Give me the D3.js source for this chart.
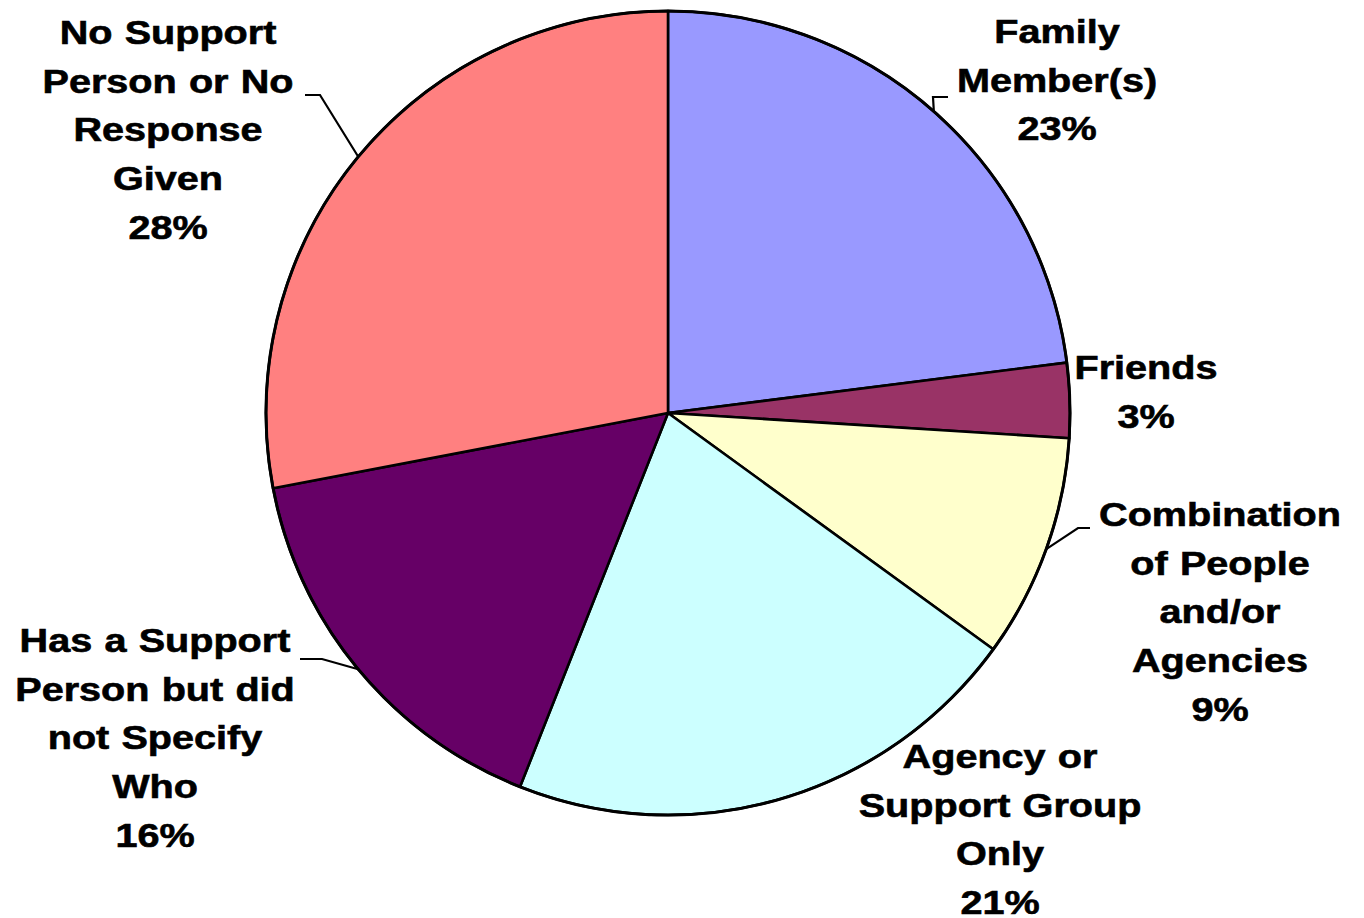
<!DOCTYPE html>
<html>
<head>
<meta charset="utf-8">
<script src="https://cdn.jsdelivr.net/npm/d3@7"></script>
<style>
  html, body { margin: 0; padding: 0; background: #fff; }
  svg { display: block; }
  text { font-family: "Liberation Sans", Arial, sans-serif; font-weight: bold; fill: #000; }
</style>
</head>
<body>
<svg id="chart" width="1364" height="918"></svg>
<script>
// Who respondents named as their support
const categories = [
  "Family Member(s)",
  "Friends",
  "Combination of People and/or Agencies",
  "Agency or Support Group Only",
  "Has a Support Person but did not Specify Who",
  "No Support Person or No Response Given"
];
const percents = [23, 3, 9, 21, 16, 28];
const sliceColors = ["#9999FF", "#993366", "#FFFFCC", "#CCFFFF", "#660066", "#FF8080"];

// Label text broken into lines (category name lines, then the percent line)
const labelLines = [
  ["Family", "Member(s)"],
  ["Friends"],
  ["Combination", "of People", "and/or", "Agencies"],
  ["Agency or", "Support Group", "Only"],
  ["Has a Support", "Person but did", "not Specify", "Who"],
  ["No Support", "Person or No", "Response", "Given"]
];

// Label placement: block centre x, centre y of first line
const labelAnchor = [
  [1057, 31],
  [1146, 367],
  [1220, 514],
  [1000, 756],
  [155, 640],
  [168, 32]
];
// Leader lines: elbow point and the end next to the text (null = no leader)
const leaderElbow = [
  [[933, 97], [948, 97]],
  null,
  [[1078, 528], [1090, 528]],
  null,
  [[322, 659], [300, 659]],
  [[320, 95], [305, 95]]
];

const width = 1364, height = 918;
const cx = 668, cy = 413, radius = 402;
const lineStep = 48.8;
const fontSize = 33, stretchX = 1.2;

const svg = d3.select("#chart");
const g = svg.append("g").attr("transform", `translate(${cx},${cy})`);

const data = categories.map((c, i) => ({ name: c, value: percents[i], i }));

const pie = d3.pie().sort(null).value(d => d.value).startAngle(0).endAngle(2 * Math.PI);
const arcs = pie(data);
const arc = d3.arc().innerRadius(0).outerRadius(radius);

g.selectAll("path.slice")
  .data(arcs)
  .enter().append("path")
  .attr("class", "slice")
  .attr("d", arc)
  .attr("fill", d => sliceColors[d.data.i])
  .attr("stroke", "#000")
  .attr("stroke-width", 2.6)
  .attr("stroke-linejoin", "round");

// outer rim
g.append("circle").attr("r", radius).attr("fill", "none").attr("stroke", "#000").attr("stroke-width", 3);

// leader lines from slice mid-angle on the rim
arcs.forEach(a => {
  const pts = leaderElbow[a.data.i];
  if (!pts) return;
  const mid = (a.startAngle + a.endAngle) / 2;
  const px = cx + radius * Math.sin(mid);
  const py = cy - radius * Math.cos(mid);
  const line = d3.line();
  svg.append("path")
    .attr("d", line([[px, py], pts[0], pts[1]]))
    .attr("fill", "none")
    .attr("stroke", "#000")
    .attr("stroke-width", 2.2);
});

// labels
arcs.forEach(a => {
  const i = a.data.i;
  const [lx, ly] = labelAnchor[i];
  const lines = labelLines[i].concat([d3.format("d")(a.data.value) + "%"]);
  const lg = svg.append("g").attr("transform", `translate(${lx},0) scale(${stretchX},1)`);
  lines.forEach((t, k) => {
    lg.append("text")
      .attr("x", 0)
      .attr("y", ly + k * lineStep)
      .attr("dy", "0.36em")
      .attr("text-anchor", "middle")
      .attr("font-size", fontSize)
      .attr("word-spacing", 1)
      .attr("stroke", "#000")
      .attr("stroke-width", 0.6)
      .text(t);
  });
});
</script>
</body>
</html>
